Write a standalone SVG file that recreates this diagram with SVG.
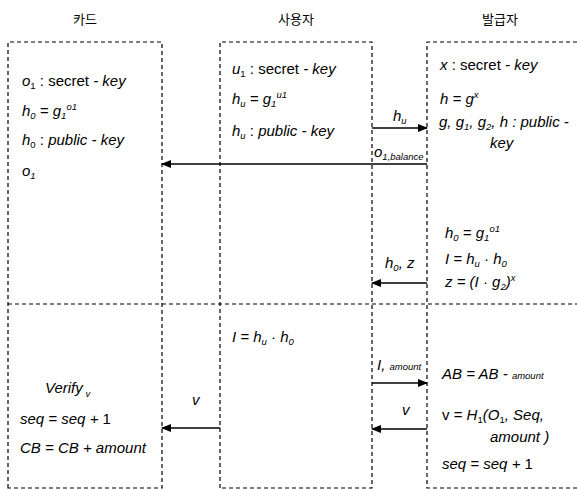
<svg xmlns="http://www.w3.org/2000/svg" width="577" height="490" viewBox="0 0 577 490">
<defs>
<marker id="ah" markerWidth="10" markerHeight="8" refX="9" refY="4" orient="auto" markerUnits="userSpaceOnUse">
<path d="M0,0 L10,4 L0,8 Z" fill="#000"/>
</marker>
<style>
.box{fill:none;stroke:#000;stroke-width:1.2;stroke-dasharray:4,3}
.t{font-family:"Liberation Sans",Arial,sans-serif;font-size:15px;fill:#000}
.i{font-style:italic}
.s{font-size:9.5px}
.k{font-family:"Noto Sans CJK KR","Liberation Sans",sans-serif;font-size:13px;fill:#000}
.ar{stroke:#000;stroke-width:1.5;fill:none;marker-end:url(#ah)}
</style>
</defs>
<rect width="577" height="490" fill="#fff"/>
<g id="card">
<text class="k" x="85" y="24" text-anchor="middle">카드</text>
<path class="box" d="M8,488 V42 H162 V488 Z"/>
<text class="t" x="22" y="86"><tspan class="i">o</tspan><tspan class="s" dy="3">1</tspan><tspan dy="-3"> : secret </tspan><tspan class="i">- key</tspan></text>
<text class="t i" x="22" y="116">h<tspan class="s" dy="3">0</tspan><tspan dy="-3"> = g</tspan><tspan class="s" dy="3">1</tspan><tspan class="s" dy="-9">o1</tspan></text>
<text class="t" x="22" y="145"><tspan class="i">h</tspan><tspan class="s" dy="3">0</tspan><tspan dy="-3"> : </tspan><tspan class="i">public - key</tspan></text>
<text class="t i" x="22" y="176">o<tspan class="s" dy="3">1</tspan></text>
<text class="t i" x="45" y="393">Verify<tspan class="s" dy="4"> v</tspan></text>
<text class="t i" x="20" y="424">seq = seq + <tspan font-style="normal">1</tspan></text>
<text class="t i" x="20" y="453">CB  = CB + amount</text>
</g>
<g id="user">
<text class="k" x="296" y="24" text-anchor="middle">사용자</text>
<path class="box" d="M220,488 V42 H372 V488 Z"/>
<text class="t" x="232" y="74"><tspan class="i">u</tspan><tspan class="s" dy="3">1</tspan><tspan dy="-3"> : secret </tspan><tspan class="i">- key</tspan></text>
<text class="t i" x="232" y="104">h<tspan class="s" dy="3">u</tspan><tspan dy="-3"> = g</tspan><tspan class="s" dy="3">1</tspan><tspan class="s" dy="-9">u1</tspan></text>
<text class="t" x="232" y="136"><tspan class="i">h</tspan><tspan class="s i" dy="3">u</tspan><tspan dy="-3"> : </tspan><tspan class="i">public - key</tspan></text>
<text class="t i" x="232" y="342">I = h<tspan class="s" dy="3">u</tspan><tspan dy="-3"> · h</tspan><tspan class="s" dy="3">0</tspan></text>
</g>
<g id="issuer">
<text class="k" x="500" y="24" text-anchor="middle">발급자</text>
<path class="box" d="M577,488 H427 V42 H577"/>
<text class="t" x="440" y="70"><tspan class="i">x</tspan> : secret <tspan class="i">- key</tspan></text>
<text class="t i" x="440" y="104">h = g<tspan class="s" dy="-6">x</tspan></text>
<text class="t i" x="439" y="127">g, g<tspan class="s" dy="3">1</tspan><tspan dy="-3">, g</tspan><tspan class="s" dy="3">2</tspan><tspan dy="-3">, h : public -</tspan></text>
<text class="t i" x="490" y="148">key</text>
<text class="t i" x="445" y="238">h<tspan class="s" dy="3">0</tspan><tspan dy="-3"> = g</tspan><tspan class="s" dy="3">1</tspan><tspan class="s" dy="-9">o1</tspan></text>
<text class="t i" x="445" y="264">I = h<tspan class="s" dy="3">u</tspan><tspan dy="-3"> · h</tspan><tspan class="s" dy="3">0</tspan></text>
<text class="t i" x="445" y="287">z = (I · g<tspan class="s" dy="3">2</tspan><tspan dy="-3">)</tspan><tspan class="s" dy="-6">x</tspan></text>
<text class="t i" x="442" y="379">AB = AB - <tspan class="s">amount</tspan></text>
<text class="t" x="442" y="420">v = <tspan class="i">H</tspan><tspan class="s" dy="3">1</tspan><tspan class="i" dy="-3">(O</tspan><tspan class="s" dy="3">1</tspan><tspan class="i" dy="-3">, Seq,</tspan></text>
<text class="t i" x="490" y="442">amount )</text>
<text class="t i" x="442" y="469">seq = seq + <tspan font-style="normal">1</tspan></text>
</g>
<g id="connectors">
<path class="box" d="M8,304 H577"/>
<line class="ar" x1="372" y1="128" x2="427" y2="128"/>
<text class="t i" x="393" y="121">h<tspan class="s" dy="3">u</tspan></text>
<line class="ar" x1="427" y1="164" x2="162" y2="164"/>
<text class="t i" x="374" y="157">o<tspan class="s" dy="3">1,balance</tspan></text>
<line class="ar" x1="427" y1="283" x2="372" y2="283"/>
<text class="t i" x="385" y="268">h<tspan class="s" dy="3">0</tspan><tspan dy="-3">, z</tspan></text>
<line class="ar" x1="372" y1="383" x2="427" y2="383"/>
<text class="t i" x="377" y="370">I, <tspan class="s">amount</tspan></text>
<line class="ar" x1="427" y1="429" x2="372" y2="429"/>
<text class="t i" x="402" y="415">v</text>
<line class="ar" x1="220" y1="428" x2="162" y2="428"/>
<text class="t i" x="192" y="405">v</text>
</g>
</svg>
